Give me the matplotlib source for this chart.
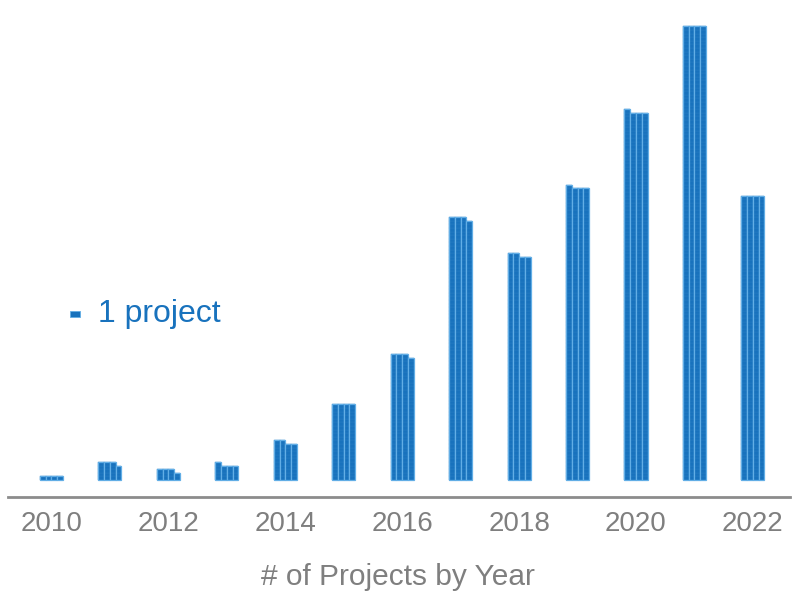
import matplotlib
matplotlib.use("Agg")
import matplotlib.pyplot as plt
from matplotlib import font_manager
from matplotlib.patches import Rectangle
import numpy as np

# Projects per year; each block in a bar is one project
years = [2010, 2011, 2012, 2013, 2014, 2015, 2016, 2017, 2018, 2019, 2020, 2021, 2022]
projects = [4, 19, 11, 17, 42, 84, 139, 291, 250, 325, 409, 504, 316]
tick_years = [2010, 2012, 2014, 2016, 2018, 2020, 2022]
legend_label = "1 project"
axis_title = "# of Projects by Year"

N_COLS = 4
BLUE = "#1872bd"
SEAM = "#2a80c6"
LIGHT = "#62aee6"
GREY = "#7f7f7f"

available = {f.name for f in font_manager.fontManager.ttflist}
narrow = "Liberation Sans Narrow" if "Liberation Sans Narrow" in available else None
regular = "Liberation Sans"
tick_font = narrow or regular
tick_size = 23 if narrow else 20
title_size = 25 if narrow else 21.5

W, H = 792, 593
fig = plt.figure(figsize=(W / 100, H / 100), dpi=100)

# axes spanning the plotting region in pixel terms
ax_left, ax_right = 8, 790
ax_bottom_px = 497
ax = fig.add_axes([ax_left / W, (H - ax_bottom_px) / H, (ax_right - ax_left) / W, ax_bottom_px / H])

px_per_year = 58.45
row_px = 3.6
x0 = 2010 - (51.5 - ax_left) / px_per_year
ax.set_xlim(x0, x0 + (ax_right - ax_left) / px_per_year)
y0 = -(ax_bottom_px - 480) / row_px
ax.set_ylim(y0, y0 + ax_bottom_px / row_px)

col_w = 5.75 / px_per_year
for yr, total in zip(years, projects):
    q, r = divmod(total, N_COLS)
    for c in range(N_COLS):
        n = q + (1 if c < r else 0)
        if n == 0:
            continue
        xc = yr + (c - (N_COLS - 1) / 2) * col_w
        ax.bar([xc] * n, [1] * n, bottom=np.arange(n), width=col_w,
               color=BLUE, edgecolor=SEAM, linewidth=0.3, align="center")
        ax.bar(xc, n, width=col_w, color="none", edgecolor=LIGHT,
               linewidth=0.9, align="center")

for s in ["top", "left", "right"]:
    ax.spines[s].set_visible(False)
ax.spines["bottom"].set_color("#8c8c8c")
ax.spines["bottom"].set_linewidth(2)
ax.set_yticks([])
ax.set_xticks(tick_years)
ax.set_xticklabels([str(t) for t in tick_years], fontsize=tick_size, color=GREY,
                   family=tick_font)
ax.tick_params(axis="x", length=0, pad=10)

# legend: a single block and its meaning
fig.add_artist(Rectangle((70 / W, (H - 317) / H), 10 / W, 6 / H,
                         transform=fig.transFigure, facecolor=BLUE,
                         edgecolor=LIGHT, linewidth=0.6))
fig.text(98 / W, (H - 314) / H, legend_label, fontsize=23, color=BLUE,
         family=regular, ha="left", va="center")

fig.text(398 / W, (H - 577) / H, axis_title, fontsize=title_size, color=GREY,
         family=tick_font, ha="center", va="center")

fig.savefig("out.png", dpi=100)
